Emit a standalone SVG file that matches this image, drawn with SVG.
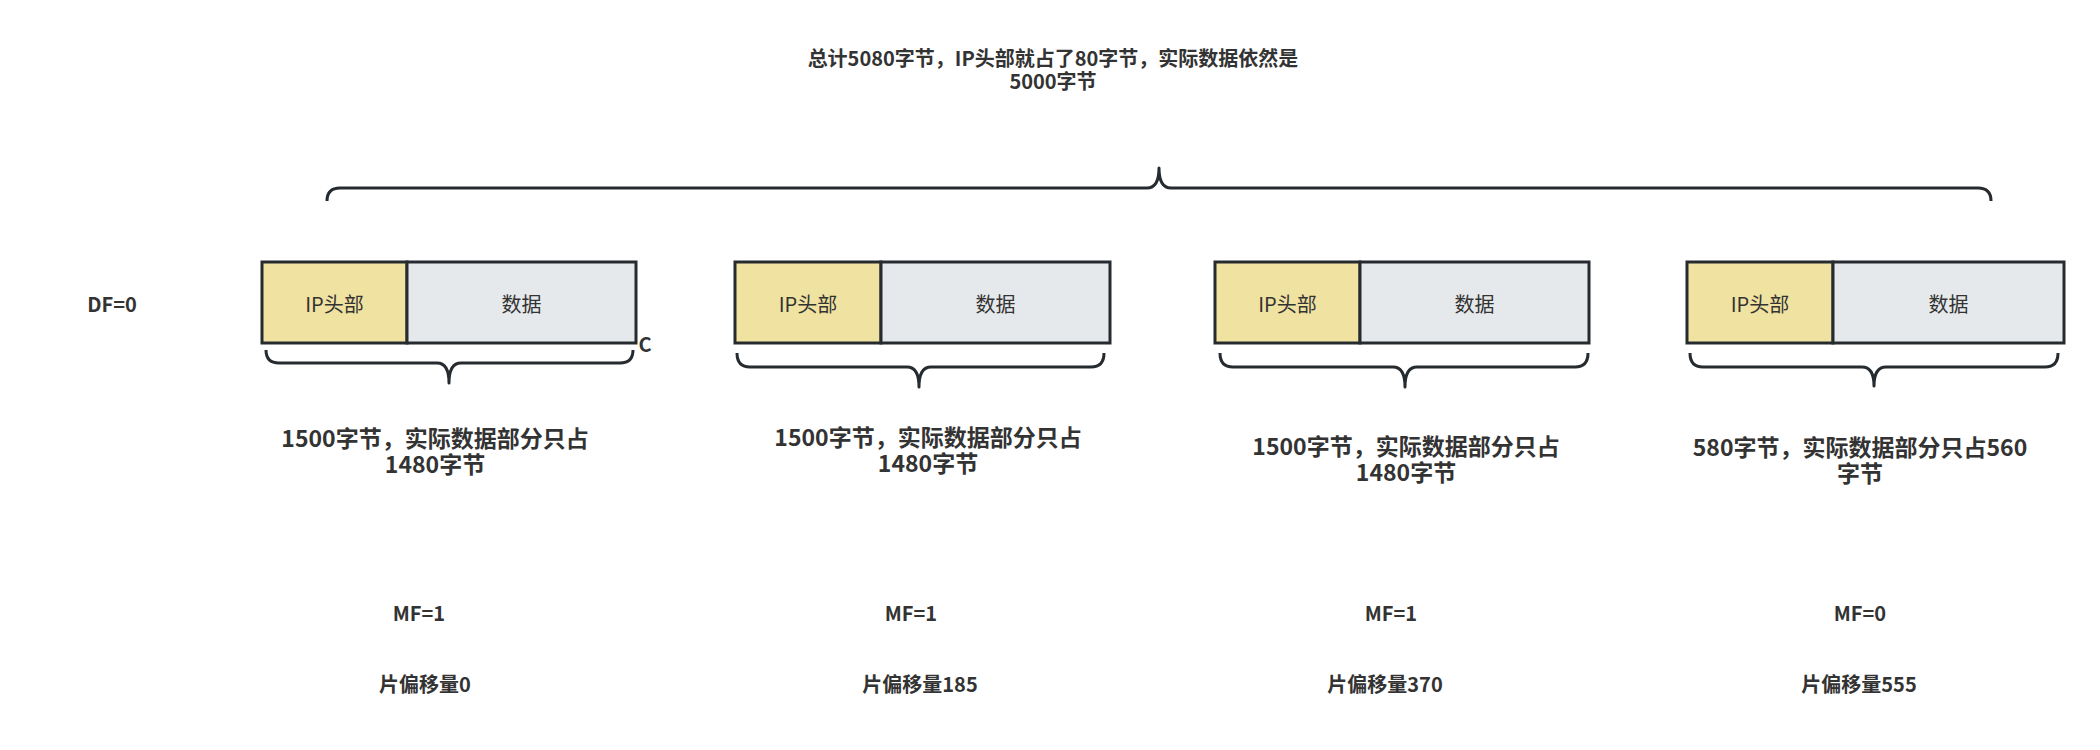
<svg xmlns="http://www.w3.org/2000/svg" width="2100" height="750" viewBox="0 0 2100 750">
<style>
.t{font-family:"Noto Sans CJK SC","Noto Sans",sans-serif;fill:#333333;text-anchor:middle;dominant-baseline:central}
.b{font-weight:bold}
.hdr{fill:#F0E2A0;stroke:#262B30;stroke-width:3}
.dat{fill:#E6E9EC;stroke:#262B30;stroke-width:3}
.br{fill:none;stroke:#262B30;stroke-width:3;stroke-linejoin:round}
</style>
<rect width="2100" height="750" fill="#ffffff"/>
<g id="title">
<text class="t b" x="1053" y="57" font-size="20">总计5080字节，IP头部就占了80字节，实际数据依然是</text>
<text class="t b" x="1053" y="80" font-size="20">5000字节</text>
</g>
<g id="df"><text class="t b" x="112" y="303" font-size="20">DF=0</text></g>
<g id="frag1">
<rect class="hdr" x="262" y="262" width="145" height="81"/>
<rect class="dat" x="407" y="262" width="229" height="81"/>
<text class="t" x="334.5" y="303" font-size="20">IP头部</text>
<text class="t" x="521.5" y="303" font-size="20">数据</text>
</g>
<g id="c"><text class="t b" x="645" y="343" font-size="20">C</text></g>
<g id="frag2">
<rect class="hdr" x="735" y="262" width="146" height="81"/>
<rect class="dat" x="881" y="262" width="229" height="81"/>
<text class="t" x="808" y="303" font-size="20">IP头部</text>
<text class="t" x="995.5" y="303" font-size="20">数据</text>
</g>
<g id="frag3">
<rect class="hdr" x="1215" y="262" width="145" height="81"/>
<rect class="dat" x="1360" y="262" width="229" height="81"/>
<text class="t" x="1287.5" y="303" font-size="20">IP头部</text>
<text class="t" x="1474.5" y="303" font-size="20">数据</text>
</g>
<g id="frag4">
<rect class="hdr" x="1687" y="262" width="146" height="81"/>
<rect class="dat" x="1833" y="262" width="231" height="81"/>
<text class="t" x="1760" y="303" font-size="20">IP头部</text>
<text class="t" x="1948.5" y="303" font-size="20">数据</text>
</g>
<g id="connectors">
<path class="br" d="M327,201 Q327,188 340,188 L1147,188 Q1159,188 1159,168 Q1159,188 1171,188 L1978,188 Q1991,188 1991,201"/>
<path class="br" d="M266,350 Q266,363 279,363 L437,363 Q449,363 449,383 Q449,363 461,363 L620,363 Q633,363 633,350"/>
<path class="br" d="M737,353 Q737,367 750,367 L907,367 Q919,367 919,387 Q919,367 931,367 L1091,367 Q1104,367 1104,353"/>
<path class="br" d="M1220,353 Q1220,367 1233,367 L1393,367 Q1405,367 1405,387 Q1405,367 1417,367 L1575,367 Q1588,367 1588,353"/>
<path class="br" d="M1690,353 Q1690,367 1703,367 L1862,367 Q1874,367 1874,386 Q1874,367 1886,367 L2045,367 Q2058,367 2058,353"/>
</g>
<g id="label1">
<text class="t b" x="435" y="437" font-size="23">1500字节，实际数据部分只占</text>
<text class="t b" x="435" y="463" font-size="23">1480字节</text>
</g>
<g id="label2">
<text class="t b" x="928" y="436" font-size="23">1500字节，实际数据部分只占</text>
<text class="t b" x="928" y="462" font-size="23">1480字节</text>
</g>
<g id="label3">
<text class="t b" x="1406" y="445" font-size="23">1500字节，实际数据部分只占</text>
<text class="t b" x="1406" y="471" font-size="23">1480字节</text>
</g>
<g id="label4">
<text class="t b" x="1860" y="446" font-size="23">580字节，实际数据部分只占560</text>
<text class="t b" x="1860" y="472" font-size="23">字节</text>
</g>
<g id="mf1"><text class="t b" x="419" y="612" font-size="20">MF=1</text></g>
<g id="mf2"><text class="t b" x="911" y="612" font-size="20">MF=1</text></g>
<g id="mf3"><text class="t b" x="1391" y="612" font-size="20">MF=1</text></g>
<g id="mf4"><text class="t b" x="1860" y="612" font-size="20">MF=0</text></g>
<g id="off1"><text class="t b" x="425" y="683" font-size="20">片偏移量0</text></g>
<g id="off2"><text class="t b" x="920" y="683" font-size="20">片偏移量185</text></g>
<g id="off3"><text class="t b" x="1385" y="683" font-size="20">片偏移量370</text></g>
<g id="off4"><text class="t b" x="1859" y="683" font-size="20">片偏移量555</text></g>
</svg>
